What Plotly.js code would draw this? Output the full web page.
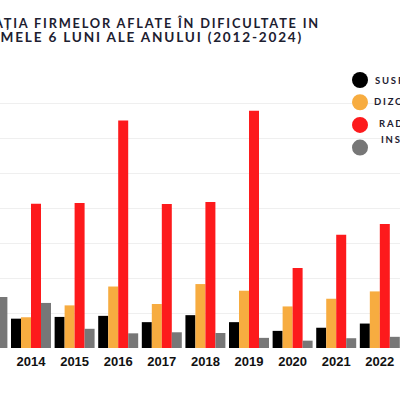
<!DOCTYPE html>
<html>
<head>
<meta charset="utf-8">
<script src="https://cdn.plot.ly/plotly-3.0.1.min.js"></script>
<style>
html,body{margin:0;padding:0;background:#fff;}
#chart{width:400px;height:400px;}
.annotation-text{letter-spacing:1.8px;}
</style>
</head>
<body>
<div id="chart"></div>
<script>
var years = ['2013','2014','2015','2016','2017','2018','2019','2020','2021','2022'];
var suspendari = [null, 8400, 8900, 9200, 7400, 9400, 7400, 4900, 5800, 7000];
var dizolvari  = [null, 8800, 12200, 17600, 12600, 18300, 16400, 11900, 14100, 16200];
var radieri    = [null, 41300, 41500, 65100, 41200, 41800, 67900, 22900, 32400, 35500];
var insolvente = [14600, 12900, 5500, 4200, 4500, 4300, 2900, 2100, 2800, 3200];
var seriesNames = ['SUSPENDĂRI', 'DIZOLVĂRI', 'RADIERI', 'INSOLVENȚE'];
var colors = ['#000000', '#F7AC40', '#FD1A1C', '#777777'];
var allSeries = [suspendari, dizolvari, radieri, insolvente];
var titleLines = ['SITUAȚIA FIRMELOR AFLATE ÎN DIFICULTATE IN', 'PRIMELE 6 LUNI ALE ANULUI (2012-2024)'];

// layout helpers (pixel -> paper)
var T = 86, B = 348.5, H = B - T;
function px(x){ return x / 400; }
function py(y){ return (B - y) / H; }

var traces = allSeries.map(function(vals, i){
  return {type:'bar', x: years, y: vals, name: seriesNames[i],
    marker:{color: colors[i]}, showlegend:false, hoverinfo:'x+y'};
});

var textColor = '#1d2030';
var legendPos = [
  {cx:360, cy:80,    tx:373, ty:80},
  {cx:360, cy:102.3, tx:371.5, ty:101.5},
  {cx:360, cy:125,   tx:377, ty:123.5},
  {cx:360, cy:147.7, tx:379, ty:139.5}
];
var shapes = [], annotations = [];
seriesNames.forEach(function(n, i){
  var p = legendPos[i];
  shapes.push({type:'circle', xref:'paper', yref:'paper',
    x0:px(p.cx-8), x1:px(p.cx+8), y0:py(p.cy+8), y1:py(p.cy-8),
    fillcolor:colors[i], line:{width:0}});
  annotations.push({xref:'paper', yref:'paper', x:px(p.tx), y:py(p.ty), xanchor:'left', yanchor:'middle',
    text:n, showarrow:false, font:{family:'Lato, Noto Sans', size:9.5, color:textColor, weight:'bold'}});
});
annotations.push({xref:'paper', yref:'paper', x:px(322), y:py(22.5), xanchor:'right', yanchor:'middle',
  text:titleLines[0], showarrow:false, font:{family:'Lato, Noto Sans', size:12.8, color:textColor, weight:'bold'}});
annotations.push({xref:'paper', yref:'paper', x:px(304.5), y:py(36.5), xanchor:'right', yanchor:'middle',
  text:titleLines[1], showarrow:false, font:{family:'Lato, Noto Sans', size:13.6, color:textColor, weight:'bold'}});

var layout = {
  width:400, height:400,
  margin:{l:0, r:0, t:T, b:400-B, pad:0, autoexpand:false},
  paper_bgcolor:'#ffffff', plot_bgcolor:'#ffffff',
  barmode:'group', bargap:0.083, bargroupgap:0,
  showlegend:false,
  xaxis:{type:'category', range:[0.289, 9.463], showgrid:false, zeroline:false,
    showline:false, ticks:'', ticklabelstandoff:4,
    tickfont:{family:'Liberation Sans, Arial', size:13, color:'#111111', weight:'bold'}},
  yaxis:{range:[0, 75000], dtick:10000, showgrid:true, gridcolor:'#efefef', gridwidth:1,
    zeroline:false, showticklabels:false, ticks:'', showline:false},
  shapes:shapes,
  annotations:annotations
};
Plotly.newPlot('chart', traces, layout, {staticPlot:true, displayModeBar:false});
</script>
</body>
</html>
